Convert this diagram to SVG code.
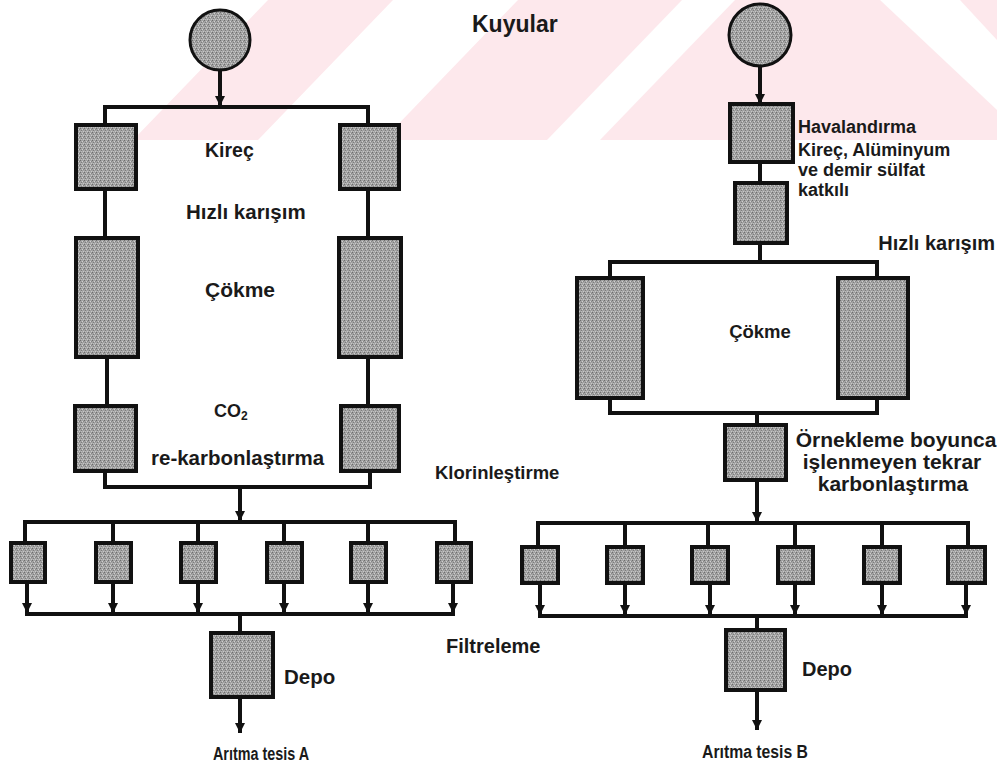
<svg xmlns="http://www.w3.org/2000/svg" width="997" height="767" viewBox="0 0 997 767">
<defs>
<pattern id="gray" width="4" height="4" patternUnits="userSpaceOnUse">
<rect width="4" height="4" fill="#a2a2a2"/>
<rect x="0" y="0" width="1" height="1" fill="#6e6e6e"/>
<rect x="2" y="1" width="1" height="1" fill="#d0d0d0"/>
<rect x="1" y="2" width="1" height="1" fill="#7c7c7c"/>
<rect x="3" y="3" width="1" height="1" fill="#c8c8c8"/>
<rect x="3" y="1" width="1" height="1" fill="#888"/>
<rect x="1" y="3" width="1" height="1" fill="#bdbdbd"/>
</pattern>
<marker id="arr" markerUnits="userSpaceOnUse" markerWidth="12" markerHeight="12" refX="10" refY="6" orient="auto">
<path d="M0,1 L10,6 L0,11 z" fill="#111"/>
</marker>
<clipPath id="wmclip"><rect x="0" y="0" width="997" height="140"/></clipPath>
</defs>
<style>
.box{fill:url(#gray);stroke:#111;stroke-width:4}
.ln{fill:none;stroke:#111;stroke-width:4}
.ar{fill:none;stroke:#111;stroke-width:4;marker-end:url(#arr)}
.t{font-family:"Liberation Sans",Arial,sans-serif;font-weight:bold;font-size:18px;fill:#1a1a1a}
.wm{fill:#fde8ec}
</style>
<rect width="997" height="767" fill="#fff"/>
<g id="watermark" clip-path="url(#wmclip)">
<polygon class="wm" points="133,140 997,140 997,0 268,0"/>
<polygon fill="#fff" points="258,140 383,140 518,0 393,0"/>
<polygon fill="#fff" points="547,140 600,140 735,0 682,0"/>
<polygon fill="#fff" points="880,0 960,0 997,40 997,110"/>
</g>

<g id="connectors">
<line class="ar" x1="220" y1="70" x2="220" y2="106"/>
<path class="ln" d="M105,125 V107 H368 V125"/>
<line class="ln" x1="105" y1="189" x2="105" y2="238"/>
<line class="ln" x1="368" y1="189" x2="368" y2="238"/>
<line class="ln" x1="107" y1="357" x2="107" y2="406"/>
<line class="ln" x1="368" y1="357" x2="368" y2="406"/>
<path class="ln" d="M105,471 V487 H370 V471"/>
<line class="ar" x1="240" y1="487" x2="240" y2="521"/>
<path class="ln" d="M25,543 V522 H455 V543"/>
<line class="ln" x1="113" y1="522" x2="113" y2="543"/>
<line class="ln" x1="198" y1="522" x2="198" y2="543"/>
<line class="ln" x1="284" y1="522" x2="284" y2="543"/>
<line class="ln" x1="368" y1="522" x2="368" y2="543"/>
<line class="ar" x1="27" y1="582" x2="27" y2="613"/>
<line class="ar" x1="113" y1="582" x2="113" y2="613"/>
<line class="ar" x1="198" y1="582" x2="198" y2="613"/>
<line class="ar" x1="284" y1="582" x2="284" y2="613"/>
<line class="ar" x1="368" y1="582" x2="368" y2="613"/>
<line class="ar" x1="453" y1="582" x2="453" y2="613"/>
<line class="ln" x1="25" y1="614" x2="455" y2="614"/>
<line class="ln" x1="240" y1="614" x2="240" y2="633"/>
<line class="ar" x1="240" y1="697" x2="240" y2="733"/>

<line class="ar" x1="760" y1="66" x2="760" y2="104"/>
<line class="ln" x1="760" y1="162" x2="760" y2="183"/>
<line class="ln" x1="760" y1="243" x2="760" y2="262"/>
<path class="ln" d="M610,278 V262 H877 V278"/>
<path class="ln" d="M610,398 V413 H877 V398"/>
<line class="ln" x1="757" y1="413" x2="757" y2="425"/>
<line class="ar" x1="757" y1="480" x2="757" y2="522"/>
<path class="ln" d="M538,547 V523 H968 V547"/>
<line class="ln" x1="625" y1="523" x2="625" y2="547"/>
<line class="ln" x1="708" y1="523" x2="708" y2="547"/>
<line class="ln" x1="795" y1="523" x2="795" y2="547"/>
<line class="ln" x1="882" y1="523" x2="882" y2="547"/>
<line class="ar" x1="540" y1="583" x2="540" y2="615"/>
<line class="ar" x1="625" y1="583" x2="625" y2="615"/>
<line class="ar" x1="710" y1="583" x2="710" y2="615"/>
<line class="ar" x1="795" y1="583" x2="795" y2="615"/>
<line class="ar" x1="882" y1="583" x2="882" y2="615"/>
<line class="ar" x1="966" y1="583" x2="966" y2="615"/>
<line class="ln" x1="538" y1="616" x2="968" y2="616"/>
<line class="ln" x1="757" y1="616" x2="757" y2="630"/>
<line class="ar" x1="757" y1="690" x2="757" y2="730"/>
</g>

<g id="wellA"><circle cx="220" cy="40" r="30" fill="url(#gray)" stroke="#111" stroke-width="3"/></g>
<g id="limeA1"><rect class="box" x="76" y="125" width="60" height="64"/></g>
<g id="limeA2"><rect class="box" x="340" y="125" width="59" height="64"/></g>
<g id="settleA1"><rect class="box" x="76" y="238" width="62" height="119"/></g>
<g id="settleA2"><rect class="box" x="339" y="238" width="62" height="119"/></g>
<g id="recarbA1"><rect class="box" x="75" y="406" width="61" height="65"/></g>
<g id="recarbA2"><rect class="box" x="341" y="406" width="58" height="65"/></g>
<g id="filtersA">
<rect class="box" x="11" y="543" width="34" height="39"/>
<rect class="box" x="96" y="543" width="35" height="39"/>
<rect class="box" x="181" y="543" width="35" height="39"/>
<rect class="box" x="267" y="543" width="35" height="39"/>
<rect class="box" x="351" y="543" width="35" height="39"/>
<rect class="box" x="437" y="543" width="34" height="39"/>
</g>
<g id="depoA"><rect class="box" x="211" y="633" width="62" height="64"/></g>

<g id="wellB"><circle cx="760" cy="35" r="31" fill="url(#gray)" stroke="#111" stroke-width="3"/></g>
<g id="aerB"><rect class="box" x="730" y="104" width="63" height="58"/></g>
<g id="chemB"><rect class="box" x="735" y="183" width="52" height="60"/></g>
<g id="settleB1"><rect class="box" x="577" y="278" width="66" height="120"/></g>
<g id="settleB2"><rect class="box" x="838" y="278" width="70" height="120"/></g>
<g id="recarbB"><rect class="box" x="725" y="425" width="61" height="55"/></g>
<g id="filtersB">
<rect class="box" x="522" y="547" width="36" height="36"/>
<rect class="box" x="607" y="547" width="36" height="36"/>
<rect class="box" x="692" y="547" width="36" height="36"/>
<rect class="box" x="778" y="547" width="35" height="36"/>
<rect class="box" x="864" y="547" width="36" height="36"/>
<rect class="box" x="948" y="547" width="37" height="36"/>
</g>
<g id="depoB"><rect class="box" x="726" y="630" width="59" height="60"/></g>

<g id="labels">
<text class="t" x="472" y="32" style="font-size:23px">Kuyular</text>
<text class="t" x="205" y="157" style="font-size:19.5px">Kireç</text>
<text class="t" x="186" y="219" style="font-size:20.5px">Hızlı karışım</text>
<text class="t" x="205" y="297" style="font-size:21px">Çökme</text>
<text class="t" x="214" y="417">CO<tspan font-size="12" dy="3">2</tspan></text>
<text class="t" x="151" y="465" style="font-size:20.5px">re-karbonlaştırma</text>
<text class="t" x="435" y="479" style="font-size:18.5px">Klorinleştirme</text>
<text class="t" x="446" y="653" style="font-size:20px">Filtreleme</text>
<text class="t" x="284" y="684" style="font-size:20.5px">Depo</text>
<text class="t" x="213" y="760" textLength="96" lengthAdjust="spacingAndGlyphs">Arıtma tesis A</text>
<text class="t" x="798" y="133">Havalandırma</text>
<text class="t" x="798" y="156">Kireç, Alüminyum</text>
<text class="t" x="798" y="176">ve demir sülfat</text>
<text class="t" x="798" y="196">katkılı</text>
<text class="t" x="995" y="250" text-anchor="end" style="font-size:20px">Hızlı karışım</text>
<text class="t" x="760" y="338" text-anchor="middle" style="font-size:18.5px">Çökme</text>
<text class="t" x="896" y="447" text-anchor="middle" style="font-size:21px">Örnekleme boyunca</text>
<text class="t" x="892" y="469" text-anchor="middle" style="font-size:21px">işlenmeyen tekrar</text>
<text class="t" x="893" y="491" text-anchor="middle" style="font-size:21px">karbonlaştırma</text>
<text class="t" x="802" y="676" style="font-size:20px">Depo</text>
<text class="t" x="702" y="758" textLength="106" lengthAdjust="spacingAndGlyphs">Arıtma tesis B</text>
</g>
</svg>
